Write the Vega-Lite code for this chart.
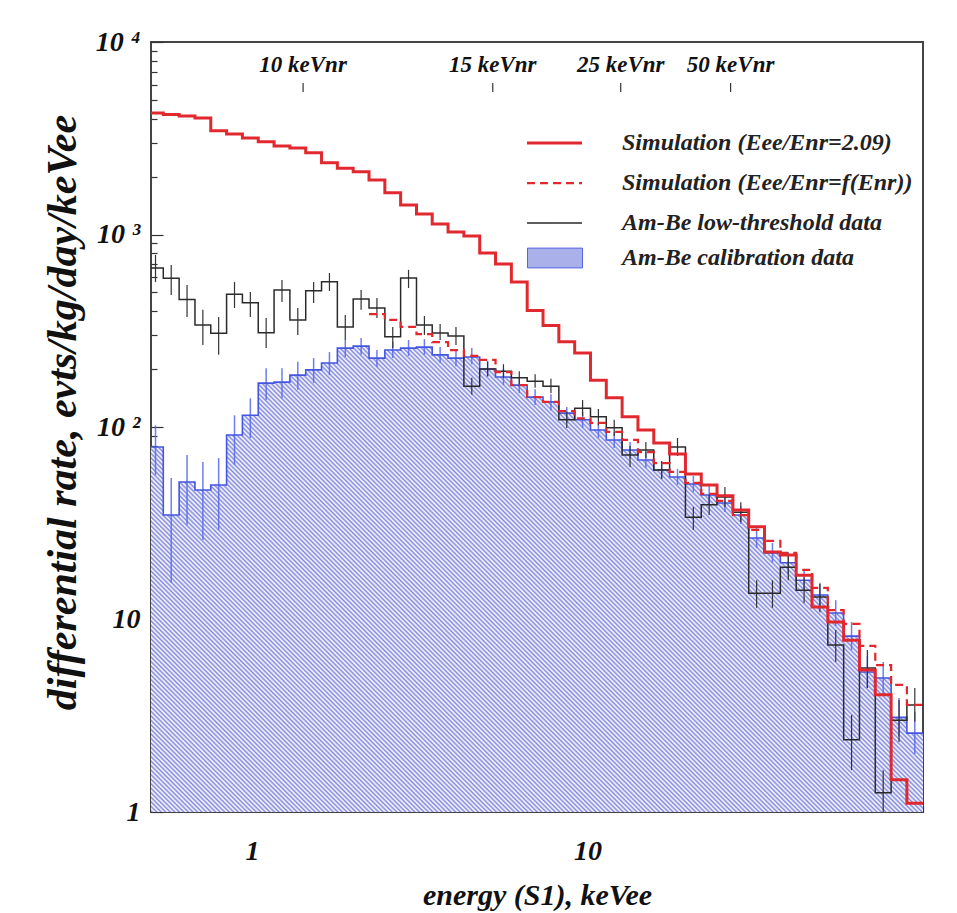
{
"$schema":"https://vega.github.io/schema/vega-lite/v6.json",
"width":772,"height":770,
"autosize":{"type":"none"},
"padding":{"left":151,"top":42,"right":34,"bottom":101},
"background":"white",
"config":{"view":{"stroke":"#444","strokeWidth":2},"font":"Liberation Serif"},
"datasets":{
"h":[
{"e":0.4884,"c":0.5157,"sim":4276,"lt":670,"lt_lo":566,"lt_hi":783,"cal":78.7,"cal_lo":56.3,"cal_hi":102},
{"e":0.5440,"c":0.5744,"sim":4200,"lt":592,"lt_lo":485,"lt_hi":695,"cal":34.9,"cal_lo":15.5,"cal_hi":54.3},
{"e":0.6065,"c":0.6403,"sim":4130,"lt":460,"lt_lo":373,"lt_hi":547,"cal":51.8,"cal_lo":31.0,"cal_hi":71.6},
{"e":0.6761,"c":0.7138,"sim":4027,"lt":339,"lt_lo":267,"lt_hi":406,"cal":47.1,"cal_lo":25.9,"cal_hi":65.8},
{"e":0.7535,"c":0.7955,"sim":3459,"lt":307,"lt_lo":237,"lt_hi":373,"cal":50,"cal_lo":29.2,"cal_hi":69},
{"e":0.8400,"c":0.8869,"sim":3326,"lt":489,"lt_lo":415,"lt_hi":566,"cal":90.8,"cal_lo":63.5,"cal_hi":115},
{"e":0.9364,"c":0.9887,"sim":3170,"lt":442,"lt_lo":373,"lt_hi":502,"cal":115,"cal_lo":87.7,"cal_hi":141},
{"e":1.0438,"c":1.1020,"sim":3033,"lt":309,"lt_lo":257,"lt_hi":368,"cal":169,"cal_lo":138,"cal_hi":202},
{"e":1.1636,"c":1.2285,"sim":2883,"lt":515,"lt_lo":446,"lt_hi":581,"cal":171,"cal_lo":141,"cal_hi":202},
{"e":1.2970,"c":1.3694,"sim":2813,"lt":360,"lt_lo":301,"lt_hi":415,"cal":186,"cal_lo":156,"cal_hi":218},
{"e":1.4458,"c":1.5265,"sim":2660,"lt":511,"lt_lo":441,"lt_hi":566,"cal":198,"cal_lo":169,"cal_hi":228},
{"e":1.6117,"c":1.7016,"sim":2361,"lt":569,"lt_lo":509,"lt_hi":631,"cal":215,"cal_lo":186,"cal_hi":245},
{"e":1.7966,"c":1.8968,"sim":2208,"lt":331,"lt_lo":283,"lt_hi":382,"cal":257,"cal_lo":231,"cal_hi":283},
{"e":2.0028,"c":2.1146,"sim":2120,"lt":462,"lt_lo":406,"lt_hi":515,"cal":263,"cal_lo":237,"cal_hi":290},
{"e":2.2325,"c":2.3571,"sim":1920,"simf":386,"lt":415,"lt_lo":368,"lt_hi":468,"cal":228,"cal_lo":205,"cal_hi":251},
{"e":2.4887,"c":2.6276,"sim":1650,"simf":360,"lt":294,"lt_lo":257,"lt_hi":331,"cal":251,"cal_lo":228,"cal_hi":276},
{"e":2.7733,"c":2.9281,"sim":1422,"simf":331,"lt":594,"lt_lo":527,"lt_hi":655,"cal":257,"cal_lo":234,"cal_hi":283},
{"e":3.0925,"c":3.2651,"sim":1277,"simf":304,"lt":339,"lt_lo":301,"lt_hi":377,"cal":260,"cal_lo":237,"cal_hi":286},
{"e":3.4448,"c":3.6370,"sim":1134,"simf":276,"lt":308,"lt_lo":283,"lt_hi":343,"cal":237,"cal_lo":215,"cal_hi":260},
{"e":3.8405,"c":4.0548,"sim":1031,"simf":251,"lt":297,"lt_lo":267,"lt_hi":331,"cal":228,"cal_lo":207,"cal_hi":251},
{"e":4.2810,"c":4.5199,"sim":982,"simf":234,"lt":163,"lt_lo":147,"lt_hi":180,"cal":231,"cal_lo":212,"cal_hi":257},
{"e":4.7722,"c":5.0385,"sim":801,"simf":223,"lt":200,"lt_lo":184,"lt_hi":218,"cal":200,"cal_lo":182,"cal_hi":220},
{"e":5.3201,"c":5.6170,"sim":703,"simf":193,"lt":195,"lt_lo":180,"lt_hi":212,"cal":182,"cal_lo":165,"cal_hi":200},
{"e":5.9305,"c":6.2614,"sim":567,"simf":165,"lt":180,"lt_lo":165,"lt_hi":195,"cal":165,"cal_lo":150,"cal_hi":182},
{"e":6.6111,"c":6.9800,"sim":403,"simf":143,"lt":173,"lt_lo":160,"lt_hi":188,"cal":143,"cal_lo":130,"cal_hi":157},
{"e":7.3697,"c":7.7809,"sim":337,"simf":135,"lt":163,"lt_lo":150,"lt_hi":178,"cal":135,"cal_lo":122,"cal_hi":148},
{"e":8.2153,"c":8.6737,"sim":277,"simf":121,"lt":109,"lt_lo":98.8,"lt_hi":120,"cal":118,"cal_lo":105,"cal_hi":127},
{"e":9.1582,"c":9.6692,"sim":242,"simf":111,"lt":125,"lt_lo":114,"lt_hi":138,"cal":109,"cal_lo":98.8,"cal_hi":120},
{"e":10.206,"c":10.776,"sim":175,"simf":105,"lt":113,"lt_lo":102,"lt_hi":124,"cal":96.4,"cal_lo":87.7,"cal_hi":106},
{"e":11.377,"c":12.012,"sim":142,"simf":94.3,"lt":99,"lt_lo":89.8,"lt_hi":109,"cal":85.6,"cal_lo":77.8,"cal_hi":94.3},
{"e":12.683,"c":13.391,"sim":113,"simf":85.6,"lt":71.6,"lt_lo":62,"lt_hi":79.6,"cal":76,"cal_lo":69,"cal_hi":83.6},
{"e":14.138,"c":14.927,"sim":96.4,"simf":74.1,"lt":76,"lt_lo":69,"lt_hi":83.6,"cal":67.4,"cal_lo":61.2,"cal_hi":74.1},
{"e":15.760,"c":16.639,"sim":82.6,"simf":65,"lt":59.8,"lt_lo":53.7,"lt_hi":66.5,"cal":59.8,"cal_lo":54.3,"cal_hi":65.8},
{"e":17.568,"c":18.548,"sim":72.4,"simf":58.4,"lt":78.8,"lt_lo":70.7,"lt_hi":87.7,"cal":55,"cal_lo":50,"cal_hi":60.5},
{"e":19.585,"c":20.678,"sim":57,"simf":51.2,"lt":34,"lt_lo":29.2,"lt_hi":38.4,"cal":50.6,"cal_lo":45.9,"cal_hi":55.6},
{"e":21.832,"c":23.050,"sim":50,"simf":44.9,"lt":39.4,"lt_lo":34.9,"lt_hi":44.4,"cal":44.3,"cal_lo":39.8,"cal_hi":49.4},
{"e":24.325,"c":25.682,"sim":43.9,"simf":41.3,"lt":43.3,"lt_lo":38.4,"lt_hi":48.8,"cal":40.3,"cal_lo":36.2,"cal_hi":44.9},
{"e":27.125,"c":28.639,"sim":37.1,"simf":34.9,"lt":36.1,"lt_lo":32.1,"lt_hi":40.7,"cal":34.9,"cal_lo":31.3,"cal_hi":38.9},
{"e":30.235,"c":31.922,"sim":30.3,"simf":29.2,"lt":13.7,"lt_lo":11.5,"lt_hi":16.0,"cal":26.5,"cal_lo":23.5,"cal_hi":29.9},
{"e":33.702,"c":35.583,"sim":22.4,"simf":25.6,"lt":13.7,"lt_lo":11.5,"lt_hi":16.0,"cal":22.2,"cal_lo":19.7,"cal_hi":25.0},
{"e":37.568,"c":39.664,"sim":21.6,"simf":22.2,"lt":18.7,"lt_lo":16.0,"lt_hi":21.6,"cal":19.7,"cal_lo":17.2,"cal_hi":22.4},
{"e":41.879,"c":44.216,"sim":17.0,"simf":18.1,"lt":14.2,"lt_lo":12.2,"lt_hi":16.6,"cal":16.0,"cal_lo":14.1,"cal_hi":18.3},
{"e":46.684,"c":49.289,"sim":11.6,"simf":14.6,"lt":13.1,"lt_lo":10.9,"lt_hi":15.3,"cal":13.4,"cal_lo":11.6,"cal_hi":15.5},
{"e":52.037,"c":54.941,"sim":9.7,"simf":11.2,"lt":7.37,"lt_lo":6.01,"lt_hi":8.82,"cal":10.8,"cal_lo":9.25,"cal_hi":12.6},
{"e":58.006,"c":61.243,"sim":7.8,"simf":9.5,"lt":2.37,"lt_lo":1.65,"lt_hi":3.19,"cal":8.2,"cal_lo":6.94,"cal_hi":9.7},
{"e":64.659,"c":68.267,"sim":5.47,"simf":7.3,"lt":5.6,"lt_lo":4.41,"lt_hi":6.94,"cal":5.34,"cal_lo":4.41,"cal_hi":6.46},
{"e":72.074,"c":76.096,"sim":4.06,"simf":5.8,"lt":1.26,"lt_lo":1.0,"lt_hi":1.65,"cal":4.97,"cal_lo":4.1,"cal_hi":6.01},
{"e":80.350,"c":84.834,"sim":1.47,"simf":4.57,"lt":3.0,"lt_lo":2.31,"lt_hi":3.82,"cal":3.1,"cal_lo":2.48,"cal_hi":3.91},
{"e":89.529,"c":94.525,"sim":1.11,"simf":3.6,"lt":3.6,"lt_lo":2.94,"lt_hi":4.41,"cal":2.57,"cal_lo":2.0,"cal_hi":3.31},
{"e":100,"sim":1.11,"simf":3.6,"lt":3.6,"cal":2.57}
],
"nr":[
{"E":1.42,"t":"10 keVnr"},
{"E":5.22,"t":"15 keVnr"},
{"E":12.56,"t":"25 keVnr"},
{"E":26.7,"t":"50 keVnr"}
]
},
"layer":[
{
"data":{"name":"h"},
"mark":{"type":"area","interpolate":"step-after","clip":true,"fill":{"gradient":"linear","x1":0,"y1":1,"x2":0.858,"y2":0.484,"stops":[
{"offset":0,"color":"#8087dc"},{"offset":0.0025,"color":"#fff"},{"offset":0.005,"color":"#8087dc"},{"offset":0.0075,"color":"#fff"},
{"offset":0.01,"color":"#8087dc"},{"offset":0.0125,"color":"#fff"},{"offset":0.015,"color":"#8087dc"},{"offset":0.0175,"color":"#fff"},
{"offset":0.02,"color":"#8087dc"},{"offset":0.0225,"color":"#fff"},{"offset":0.025,"color":"#8087dc"},{"offset":0.0275,"color":"#fff"},
{"offset":0.03,"color":"#8087dc"},{"offset":0.0325,"color":"#fff"},{"offset":0.035,"color":"#8087dc"},{"offset":0.0375,"color":"#fff"},
{"offset":0.04,"color":"#8087dc"},{"offset":0.0425,"color":"#fff"},{"offset":0.045,"color":"#8087dc"},{"offset":0.0475,"color":"#fff"},
{"offset":0.05,"color":"#8087dc"},{"offset":0.0525,"color":"#fff"},{"offset":0.055,"color":"#8087dc"},{"offset":0.0575,"color":"#fff"},
{"offset":0.06,"color":"#8087dc"},{"offset":0.0625,"color":"#fff"},{"offset":0.065,"color":"#8087dc"},{"offset":0.0675,"color":"#fff"},
{"offset":0.07,"color":"#8087dc"},{"offset":0.0725,"color":"#fff"},{"offset":0.075,"color":"#8087dc"},{"offset":0.0775,"color":"#fff"},
{"offset":0.08,"color":"#8087dc"},{"offset":0.0825,"color":"#fff"},{"offset":0.085,"color":"#8087dc"},{"offset":0.0875,"color":"#fff"},
{"offset":0.09,"color":"#8087dc"},{"offset":0.0925,"color":"#fff"},{"offset":0.095,"color":"#8087dc"},{"offset":0.0975,"color":"#fff"},
{"offset":0.1,"color":"#8087dc"},{"offset":0.1025,"color":"#fff"},{"offset":0.105,"color":"#8087dc"},{"offset":0.1075,"color":"#fff"},
{"offset":0.11,"color":"#8087dc"},{"offset":0.1125,"color":"#fff"},{"offset":0.115,"color":"#8087dc"},{"offset":0.1175,"color":"#fff"},
{"offset":0.12,"color":"#8087dc"},{"offset":0.1225,"color":"#fff"},{"offset":0.125,"color":"#8087dc"},{"offset":0.1275,"color":"#fff"},
{"offset":0.13,"color":"#8087dc"},{"offset":0.1325,"color":"#fff"},{"offset":0.135,"color":"#8087dc"},{"offset":0.1375,"color":"#fff"},
{"offset":0.14,"color":"#8087dc"},{"offset":0.1425,"color":"#fff"},{"offset":0.145,"color":"#8087dc"},{"offset":0.1475,"color":"#fff"},
{"offset":0.15,"color":"#8087dc"},{"offset":0.1525,"color":"#fff"},{"offset":0.155,"color":"#8087dc"},{"offset":0.1575,"color":"#fff"},
{"offset":0.16,"color":"#8087dc"},{"offset":0.1625,"color":"#fff"},{"offset":0.165,"color":"#8087dc"},{"offset":0.1675,"color":"#fff"},
{"offset":0.17,"color":"#8087dc"},{"offset":0.1725,"color":"#fff"},{"offset":0.175,"color":"#8087dc"},{"offset":0.1775,"color":"#fff"},
{"offset":0.18,"color":"#8087dc"},{"offset":0.1825,"color":"#fff"},{"offset":0.185,"color":"#8087dc"},{"offset":0.1875,"color":"#fff"},
{"offset":0.19,"color":"#8087dc"},{"offset":0.1925,"color":"#fff"},{"offset":0.195,"color":"#8087dc"},{"offset":0.1975,"color":"#fff"},
{"offset":0.2,"color":"#8087dc"},{"offset":0.2025,"color":"#fff"},{"offset":0.205,"color":"#8087dc"},{"offset":0.2075,"color":"#fff"},
{"offset":0.21,"color":"#8087dc"},{"offset":0.2125,"color":"#fff"},{"offset":0.215,"color":"#8087dc"},{"offset":0.2175,"color":"#fff"},
{"offset":0.22,"color":"#8087dc"},{"offset":0.2225,"color":"#fff"},{"offset":0.225,"color":"#8087dc"},{"offset":0.2275,"color":"#fff"},
{"offset":0.23,"color":"#8087dc"},{"offset":0.2325,"color":"#fff"},{"offset":0.235,"color":"#8087dc"},{"offset":0.2375,"color":"#fff"},
{"offset":0.24,"color":"#8087dc"},{"offset":0.2425,"color":"#fff"},{"offset":0.245,"color":"#8087dc"},{"offset":0.2475,"color":"#fff"},
{"offset":0.25,"color":"#8087dc"},{"offset":0.2525,"color":"#fff"},{"offset":0.255,"color":"#8087dc"},{"offset":0.2575,"color":"#fff"},
{"offset":0.26,"color":"#8087dc"},{"offset":0.2625,"color":"#fff"},{"offset":0.265,"color":"#8087dc"},{"offset":0.2675,"color":"#fff"},
{"offset":0.27,"color":"#8087dc"},{"offset":0.2725,"color":"#fff"},{"offset":0.275,"color":"#8087dc"},{"offset":0.2775,"color":"#fff"},
{"offset":0.28,"color":"#8087dc"},{"offset":0.2825,"color":"#fff"},{"offset":0.285,"color":"#8087dc"},{"offset":0.2875,"color":"#fff"},
{"offset":0.29,"color":"#8087dc"},{"offset":0.2925,"color":"#fff"},{"offset":0.295,"color":"#8087dc"},{"offset":0.2975,"color":"#fff"},
{"offset":0.3,"color":"#8087dc"},{"offset":0.3025,"color":"#fff"},{"offset":0.305,"color":"#8087dc"},{"offset":0.3075,"color":"#fff"},
{"offset":0.31,"color":"#8087dc"},{"offset":0.3125,"color":"#fff"},{"offset":0.315,"color":"#8087dc"},{"offset":0.3175,"color":"#fff"},
{"offset":0.32,"color":"#8087dc"},{"offset":0.3225,"color":"#fff"},{"offset":0.325,"color":"#8087dc"},{"offset":0.3275,"color":"#fff"},
{"offset":0.33,"color":"#8087dc"},{"offset":0.3325,"color":"#fff"},{"offset":0.335,"color":"#8087dc"},{"offset":0.3375,"color":"#fff"},
{"offset":0.34,"color":"#8087dc"},{"offset":0.3425,"color":"#fff"},{"offset":0.345,"color":"#8087dc"},{"offset":0.3475,"color":"#fff"},
{"offset":0.35,"color":"#8087dc"},{"offset":0.3525,"color":"#fff"},{"offset":0.355,"color":"#8087dc"},{"offset":0.3575,"color":"#fff"},
{"offset":0.36,"color":"#8087dc"},{"offset":0.3625,"color":"#fff"},{"offset":0.365,"color":"#8087dc"},{"offset":0.3675,"color":"#fff"},
{"offset":0.37,"color":"#8087dc"},{"offset":0.3725,"color":"#fff"},{"offset":0.375,"color":"#8087dc"},{"offset":0.3775,"color":"#fff"},
{"offset":0.38,"color":"#8087dc"},{"offset":0.3825,"color":"#fff"},{"offset":0.385,"color":"#8087dc"},{"offset":0.3875,"color":"#fff"},
{"offset":0.39,"color":"#8087dc"},{"offset":0.3925,"color":"#fff"},{"offset":0.395,"color":"#8087dc"},{"offset":0.3975,"color":"#fff"},
{"offset":0.4,"color":"#8087dc"},{"offset":0.4025,"color":"#fff"},{"offset":0.405,"color":"#8087dc"},{"offset":0.4075,"color":"#fff"},
{"offset":0.41,"color":"#8087dc"},{"offset":0.4125,"color":"#fff"},{"offset":0.415,"color":"#8087dc"},{"offset":0.4175,"color":"#fff"},
{"offset":0.42,"color":"#8087dc"},{"offset":0.4225,"color":"#fff"},{"offset":0.425,"color":"#8087dc"},{"offset":0.4275,"color":"#fff"},
{"offset":0.43,"color":"#8087dc"},{"offset":0.4325,"color":"#fff"},{"offset":0.435,"color":"#8087dc"},{"offset":0.4375,"color":"#fff"},
{"offset":0.44,"color":"#8087dc"},{"offset":0.4425,"color":"#fff"},{"offset":0.445,"color":"#8087dc"},{"offset":0.4475,"color":"#fff"},
{"offset":0.45,"color":"#8087dc"},{"offset":0.4525,"color":"#fff"},{"offset":0.455,"color":"#8087dc"},{"offset":0.4575,"color":"#fff"},
{"offset":0.46,"color":"#8087dc"},{"offset":0.4625,"color":"#fff"},{"offset":0.465,"color":"#8087dc"},{"offset":0.4675,"color":"#fff"},
{"offset":0.47,"color":"#8087dc"},{"offset":0.4725,"color":"#fff"},{"offset":0.475,"color":"#8087dc"},{"offset":0.4775,"color":"#fff"},
{"offset":0.48,"color":"#8087dc"},{"offset":0.4825,"color":"#fff"},{"offset":0.485,"color":"#8087dc"},{"offset":0.4875,"color":"#fff"},
{"offset":0.49,"color":"#8087dc"},{"offset":0.4925,"color":"#fff"},{"offset":0.495,"color":"#8087dc"},{"offset":0.4975,"color":"#fff"},
{"offset":0.5,"color":"#8087dc"},{"offset":0.5025,"color":"#fff"},{"offset":0.505,"color":"#8087dc"},{"offset":0.5075,"color":"#fff"},
{"offset":0.51,"color":"#8087dc"},{"offset":0.5125,"color":"#fff"},{"offset":0.515,"color":"#8087dc"},{"offset":0.5175,"color":"#fff"},
{"offset":0.52,"color":"#8087dc"},{"offset":0.5225,"color":"#fff"},{"offset":0.525,"color":"#8087dc"},{"offset":0.5275,"color":"#fff"},
{"offset":0.53,"color":"#8087dc"},{"offset":0.5325,"color":"#fff"},{"offset":0.535,"color":"#8087dc"},{"offset":0.5375,"color":"#fff"},
{"offset":0.54,"color":"#8087dc"},{"offset":0.5425,"color":"#fff"},{"offset":0.545,"color":"#8087dc"},{"offset":0.5475,"color":"#fff"},
{"offset":0.55,"color":"#8087dc"},{"offset":0.5525,"color":"#fff"},{"offset":0.555,"color":"#8087dc"},{"offset":0.5575,"color":"#fff"},
{"offset":0.56,"color":"#8087dc"},{"offset":0.5625,"color":"#fff"},{"offset":0.565,"color":"#8087dc"},{"offset":0.5675,"color":"#fff"},
{"offset":0.57,"color":"#8087dc"},{"offset":0.5725,"color":"#fff"},{"offset":0.575,"color":"#8087dc"},{"offset":0.5775,"color":"#fff"},
{"offset":0.58,"color":"#8087dc"},{"offset":0.5825,"color":"#fff"},{"offset":0.585,"color":"#8087dc"},{"offset":0.5875,"color":"#fff"},
{"offset":0.59,"color":"#8087dc"},{"offset":0.5925,"color":"#fff"},{"offset":0.595,"color":"#8087dc"},{"offset":0.5975,"color":"#fff"},
{"offset":0.6,"color":"#8087dc"},{"offset":0.6025,"color":"#fff"},{"offset":0.605,"color":"#8087dc"},{"offset":0.6075,"color":"#fff"},
{"offset":0.61,"color":"#8087dc"},{"offset":0.6125,"color":"#fff"},{"offset":0.615,"color":"#8087dc"},{"offset":0.6175,"color":"#fff"},
{"offset":0.62,"color":"#8087dc"},{"offset":0.6225,"color":"#fff"},{"offset":0.625,"color":"#8087dc"},{"offset":0.6275,"color":"#fff"},
{"offset":0.63,"color":"#8087dc"},{"offset":0.6325,"color":"#fff"},{"offset":0.635,"color":"#8087dc"},{"offset":0.6375,"color":"#fff"},
{"offset":0.64,"color":"#8087dc"},{"offset":0.6425,"color":"#fff"},{"offset":0.645,"color":"#8087dc"},{"offset":0.6475,"color":"#fff"},
{"offset":0.65,"color":"#8087dc"},{"offset":0.6525,"color":"#fff"},{"offset":0.655,"color":"#8087dc"},{"offset":0.6575,"color":"#fff"},
{"offset":0.66,"color":"#8087dc"},{"offset":0.6625,"color":"#fff"},{"offset":0.665,"color":"#8087dc"},{"offset":0.6675,"color":"#fff"},
{"offset":0.67,"color":"#8087dc"},{"offset":0.6725,"color":"#fff"},{"offset":0.675,"color":"#8087dc"},{"offset":0.6775,"color":"#fff"},
{"offset":0.68,"color":"#8087dc"},{"offset":0.6825,"color":"#fff"},{"offset":0.685,"color":"#8087dc"},{"offset":0.6875,"color":"#fff"},
{"offset":0.69,"color":"#8087dc"},{"offset":0.6925,"color":"#fff"},{"offset":0.695,"color":"#8087dc"},{"offset":0.6975,"color":"#fff"},
{"offset":0.7,"color":"#8087dc"},{"offset":0.7025,"color":"#fff"},{"offset":0.705,"color":"#8087dc"},{"offset":0.7075,"color":"#fff"},
{"offset":0.71,"color":"#8087dc"},{"offset":0.7125,"color":"#fff"},{"offset":0.715,"color":"#8087dc"},{"offset":0.7175,"color":"#fff"},
{"offset":0.72,"color":"#8087dc"},{"offset":0.7225,"color":"#fff"},{"offset":0.725,"color":"#8087dc"},{"offset":0.7275,"color":"#fff"},
{"offset":0.73,"color":"#8087dc"},{"offset":0.7325,"color":"#fff"},{"offset":0.735,"color":"#8087dc"},{"offset":0.7375,"color":"#fff"},
{"offset":0.74,"color":"#8087dc"},{"offset":0.7425,"color":"#fff"},{"offset":0.745,"color":"#8087dc"},{"offset":0.7475,"color":"#fff"},
{"offset":0.75,"color":"#8087dc"},{"offset":0.7525,"color":"#fff"},{"offset":0.755,"color":"#8087dc"},{"offset":0.7575,"color":"#fff"},
{"offset":0.76,"color":"#8087dc"},{"offset":0.7625,"color":"#fff"},{"offset":0.765,"color":"#8087dc"},{"offset":0.7675,"color":"#fff"},
{"offset":0.77,"color":"#8087dc"},{"offset":0.7725,"color":"#fff"},{"offset":0.775,"color":"#8087dc"},{"offset":0.7775,"color":"#fff"},
{"offset":0.78,"color":"#8087dc"},{"offset":0.7825,"color":"#fff"},{"offset":0.785,"color":"#8087dc"},{"offset":0.7875,"color":"#fff"},
{"offset":0.79,"color":"#8087dc"},{"offset":0.7925,"color":"#fff"},{"offset":0.795,"color":"#8087dc"},{"offset":0.7975,"color":"#fff"},
{"offset":0.8,"color":"#8087dc"},{"offset":0.8025,"color":"#fff"},{"offset":0.805,"color":"#8087dc"},{"offset":0.8075,"color":"#fff"},
{"offset":0.81,"color":"#8087dc"},{"offset":0.8125,"color":"#fff"},{"offset":0.815,"color":"#8087dc"},{"offset":0.8175,"color":"#fff"},
{"offset":0.82,"color":"#8087dc"},{"offset":0.8225,"color":"#fff"},{"offset":0.825,"color":"#8087dc"},{"offset":0.8275,"color":"#fff"},
{"offset":0.83,"color":"#8087dc"},{"offset":0.8325,"color":"#fff"},{"offset":0.835,"color":"#8087dc"},{"offset":0.8375,"color":"#fff"},
{"offset":0.84,"color":"#8087dc"},{"offset":0.8425,"color":"#fff"},{"offset":0.845,"color":"#8087dc"},{"offset":0.8475,"color":"#fff"},
{"offset":0.85,"color":"#8087dc"},{"offset":0.8525,"color":"#fff"},{"offset":0.855,"color":"#8087dc"},{"offset":0.8575,"color":"#fff"},
{"offset":0.86,"color":"#8087dc"},{"offset":0.8625,"color":"#fff"},{"offset":0.865,"color":"#8087dc"},{"offset":0.8675,"color":"#fff"},
{"offset":0.87,"color":"#8087dc"},{"offset":0.8725,"color":"#fff"},{"offset":0.875,"color":"#8087dc"},{"offset":0.8775,"color":"#fff"},
{"offset":0.88,"color":"#8087dc"},{"offset":0.8825,"color":"#fff"},{"offset":0.885,"color":"#8087dc"},{"offset":0.8875,"color":"#fff"},
{"offset":0.89,"color":"#8087dc"},{"offset":0.8925,"color":"#fff"},{"offset":0.895,"color":"#8087dc"},{"offset":0.8975,"color":"#fff"},
{"offset":0.9,"color":"#8087dc"},{"offset":0.9025,"color":"#fff"},{"offset":0.905,"color":"#8087dc"},{"offset":0.9075,"color":"#fff"},
{"offset":0.91,"color":"#8087dc"},{"offset":0.9125,"color":"#fff"},{"offset":0.915,"color":"#8087dc"},{"offset":0.9175,"color":"#fff"},
{"offset":0.92,"color":"#8087dc"},{"offset":0.9225,"color":"#fff"},{"offset":0.925,"color":"#8087dc"},{"offset":0.9275,"color":"#fff"},
{"offset":0.93,"color":"#8087dc"},{"offset":0.9325,"color":"#fff"},{"offset":0.935,"color":"#8087dc"},{"offset":0.9375,"color":"#fff"},
{"offset":0.94,"color":"#8087dc"},{"offset":0.9425,"color":"#fff"},{"offset":0.945,"color":"#8087dc"},{"offset":0.9475,"color":"#fff"},
{"offset":0.95,"color":"#8087dc"},{"offset":0.9525,"color":"#fff"},{"offset":0.955,"color":"#8087dc"},{"offset":0.9575,"color":"#fff"},
{"offset":0.96,"color":"#8087dc"},{"offset":0.9625,"color":"#fff"},{"offset":0.965,"color":"#8087dc"},{"offset":0.9675,"color":"#fff"},
{"offset":0.97,"color":"#8087dc"},{"offset":0.9725,"color":"#fff"},{"offset":0.975,"color":"#8087dc"},{"offset":0.9775,"color":"#fff"},
{"offset":0.98,"color":"#8087dc"},{"offset":0.9825,"color":"#fff"},{"offset":0.985,"color":"#8087dc"},{"offset":0.9875,"color":"#fff"},
{"offset":0.99,"color":"#8087dc"},{"offset":0.9925,"color":"#fff"},{"offset":0.995,"color":"#8087dc"},{"offset":0.9975,"color":"#fff"},
{"offset":1,"color":"#8087dc"}
]}},
"encoding":{
"x":{"field":"e","type":"quantitative","scale":{"type":"log","domain":[0.5,100],"nice":false},
"axis":{"title":"energy (S1), keVee","values":[0.5,0.6,0.7,0.8,0.9,1,2,3,4,5,6,7,8,9,10,20,30,40,50,60,70,80,90,100],
"labelExpr":"datum.value==1?'1':datum.value==10?'10':''",
"tickSize":{"condition":{"test":"datum.value==1||datum.value==10","value":-12},"value":-6},
"tickColor":"#333","tickWidth":1.2,"domain":false,"grid":false,"labelOverlap":false,"labelFlush":false,
"labelFont":"Liberation Serif","labelFontSize":28,"labelFontStyle":"italic","labelFontWeight":"bold","labelColor":"#111",
"labelPadding":37,"labelBaseline":"top",
"titleFont":"Liberation Serif","titleFontSize":30,"titleFontStyle":"italic","titleFontWeight":"bold","titleColor":"#111",
"titleX":386,"titleY":83,"titleBaseline":"middle","titleAlign":"center","titleLimit":1000}},
"y":{"field":"cal","type":"quantitative","scale":{"type":"log","domain":[1,10000],"nice":false},
"axis":{"title":"differential rate, evts/kg/day/keVee",
"values":[1,2,3,4,5,6,7,8,9,10,20,30,40,50,60,70,80,90,100,200,300,400,500,600,700,800,900,1000,2000,3000,4000,5000,6000,7000,8000,9000,10000],
"labelExpr":"datum.value==10000?'10 ⁴':datum.value==1000?'10 ³':datum.value==100?'10 ²':datum.value==10?'10':datum.value==1?'1':''",
"tickSize":{"condition":{"test":"datum.value==1||datum.value==10||datum.value==100||datum.value==1000||datum.value==10000","value":-12},"value":-6},
"tickColor":"#333","tickWidth":1.2,"domain":false,"grid":false,"labelOverlap":false,"labelFlush":false,
"labelFont":"Liberation Serif","labelFontSize":28,"labelFontStyle":"italic","labelFontWeight":"bold","labelColor":"#111",
"labelPadding":23,"labelBaseline":"middle",
"titleFont":"Liberation Serif","titleFontSize":42,"titleFontStyle":"italic","titleFontWeight":"bold","titleColor":"#111",
"titleX":-89,"titleY":370,"titleAngle":-90,"titleBaseline":"middle","titleAlign":"center","titleLimit":1000}},
"y2":{"datum":1}
}
},
{
"data":{"name":"h"},
"transform":[{"filter":"isValid(datum.c)"}],
"mark":{"type":"rule","color":"#5566ee","strokeWidth":1.5,"opacity":0.85,"clip":true},
"encoding":{
"x":{"field":"c","type":"quantitative","scale":{"type":"log","domain":[0.5,100],"nice":false}},
"y":{"field":"cal_lo","type":"quantitative","scale":{"type":"log","domain":[1,10000],"nice":false}},
"y2":{"field":"cal_hi"}
}
},
{
"data":{"name":"h"},
"mark":{"type":"line","interpolate":"step-after","color":"#4455e0","strokeWidth":1.6,"clip":true},
"encoding":{
"x":{"field":"e","type":"quantitative","scale":{"type":"log","domain":[0.5,100],"nice":false}},
"y":{"field":"cal","type":"quantitative","scale":{"type":"log","domain":[1,10000],"nice":false}}
}
},
{
"data":{"name":"h"},
"transform":[{"filter":"isValid(datum.c)"}],
"mark":{"type":"rule","color":"#333","strokeWidth":1.2,"clip":true},
"encoding":{
"x":{"field":"c","type":"quantitative","scale":{"type":"log","domain":[0.5,100],"nice":false}},
"y":{"field":"lt_lo","type":"quantitative","scale":{"type":"log","domain":[1,10000],"nice":false}},
"y2":{"field":"lt_hi"}
}
},
{
"data":{"name":"h"},
"transform":[{"fold":["lt","simf","sim"],"as":["k","v"]},{"filter":"isValid(datum.v)"}],
"mark":{"type":"line","interpolate":"step-after","clip":true},
"encoding":{
"x":{"field":"e","type":"quantitative","scale":{"type":"log","domain":[0.5,100],"nice":false}},
"y":{"field":"v","type":"quantitative","scale":{"type":"log","domain":[1,10000],"nice":false}},
"color":{"field":"k","type":"nominal","scale":{"domain":["sim","simf","lt"],"range":["#e0282e","#e0282e","#2a2a2a"]},
"legend":{"orient":"none","legendX":374.5,"legendY":91,"title":null,"padding":0,"symbolType":"stroke","symbolSize":3025,
"clipHeight":20,"rowPadding":16,"labelOffset":38.5,"labelLimit":500,
"labelFont":"Liberation Serif","labelFontSize":24,"labelFontStyle":"italic","labelFontWeight":"bold","labelColor":"#222",
"labelExpr":"datum.label=='sim'?'Simulation (Eee/Enr=2.09)':datum.label=='simf'?'Simulation (Eee/Enr=f(Enr))':'Am-Be low-threshold data'"}},
"strokeDash":{"field":"k","type":"nominal","scale":{"domain":["sim","simf","lt"],"range":[[1,0],[8,5],[1,0]]}},
"strokeWidth":{"field":"k","type":"ordinal","scale":{"type":"point","domain":["sim","simf","lt"],"range":[3,1.5],"padding":0}}
}
},
{
"data":{"name":"h"},
"transform":[{"filter":"false"}],
"mark":{"type":"square"},
"encoding":{
"x":{"field":"e","type":"quantitative","scale":{"type":"log","domain":[0.5,100],"nice":false}},
"y":{"field":"cal","type":"quantitative","scale":{"type":"log","domain":[1,10000],"nice":false}},
"fill":{"datum":"Am-Be calibration data","type":"nominal","scale":{"range":["#aab0ea"]},
"legend":{"orient":"none","legendX":376,"legendY":205,"title":null,"padding":0,"symbolType":"M-1,-0.36H1V0.36H-1Z","symbolSize":3025,
"symbolStrokeColor":"#5566dd","symbolStrokeWidth":1,"symbolOpacity":1,"clipHeight":22,"labelOffset":39,"labelLimit":500,
"labelFont":"Liberation Serif","labelFontSize":24,"labelFontStyle":"italic","labelFontWeight":"bold","labelColor":"#222"}}
}
},
{
"data":{"name":"nr"},
"mark":{"type":"text","font":"Liberation Serif","fontSize":23,"fontStyle":"italic","fontWeight":"bold","baseline":"middle","align":"center","color":"#111"},
"encoding":{
"x":{"field":"E","type":"quantitative","scale":{"type":"log","domain":[0.5,100],"nice":false}},
"y":{"datum":7600,"type":"quantitative","scale":{"type":"log","domain":[1,10000],"nice":false}},
"text":{"field":"t"}
}
},
{
"data":{"name":"nr"},
"mark":{"type":"rule","color":"#333","strokeWidth":1.2},
"encoding":{
"x":{"field":"E","type":"quantitative","scale":{"type":"log","domain":[0.5,100],"nice":false}},
"y":{"datum":6124,"type":"quantitative","scale":{"type":"log","domain":[1,10000],"nice":false}},
"y2":{"datum":5500}
}
}
]
}
